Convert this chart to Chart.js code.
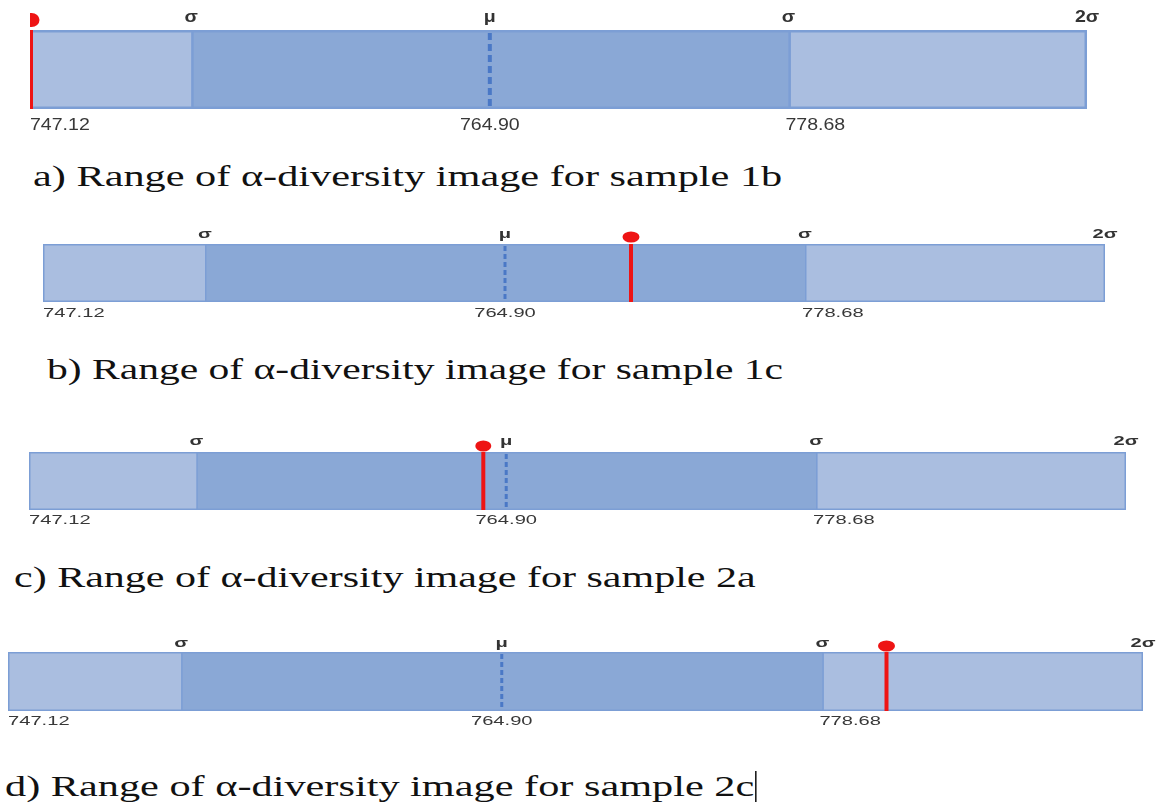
<!DOCTYPE html>
<html>
<head>
<meta charset="utf-8">
<script src="https://cdn.jsdelivr.net/npm/chart.js@4.4.1/dist/chart.umd.min.js"></script>
<style>
  html, body { margin: 0; padding: 0; background: #fff; }
  body { width: 1157px; height: 803px; position: relative; overflow: hidden; }
  canvas { position: absolute; left: 0; }
  .caption {
    position: absolute;
    font-family: 'Liberation Serif', 'Times New Roman', serif;
    font-size: 30px;
    line-height: 30px;
    color: #111;
    white-space: nowrap;
    transform-origin: 0 0;
    transform: scaleX(1.41);
  }
  .caret { display: inline-block; width: 0; height: 31px; border-left: 1px solid #000; vertical-align: -6px; margin-left: 1px; }
</style>
</head>
<body>
<script>
// Positions along the bar, in σ units measured from the mean μ
const rangeEdges = [-1.54, -1, 1, 2];
const meanValue = 0;
const topTickValues = [-1, 0, 1, 2];
const topTickLabels = ['σ', 'μ', 'σ', '2σ'];
const bottomTickValues = [-1.54, 0, 1];
const bottomTickLabels = ['747.12', '764.90', '778.68'];
const panelLetters = ['a', 'b', 'c', 'd'];
const sampleNames = ['1b', '1c', '2a', '2c'];
const sampleValues = [-1.535, 0.42, -0.074, 1.2];

const LIGHT = '#aabee0';
const DARK = '#8aa8d6';
const EDGE = '#7c9ed5';
const MEAN = '#4a78c6';
const RED = '#ee1414';
const WIDTH = 1157;

// Page layout of each panel (pixels)
const panels = [
  { top: 0, height: 140, left: 30, right: 1087, barTop: 30, barBottom: 109, font: 17, stretch: 1.15,
    topGap: 13, bottomGap: 16, line: 3, meanWidth: 4, dash: [7, 4], dotRx: 8, dotRy: 7, dotGap: 10, border: 3,
    captionX: 33, captionY: 161, captionScale: 1.41 },
  { top: 215, height: 110, left: 43, right: 1105, barTop: 244, barBottom: 302, font: 13, stretch: 1.55,
    topGap: 10, bottomGap: 11, line: 4, meanWidth: 3, dash: [5, 3], dotRx: 8.5, dotRy: 5.5, dotGap: 7, border: 2,
    captionX: 47, captionY: 354, captionScale: 1.385 },
  { top: 425, height: 110, left: 29, right: 1126, barTop: 452, barBottom: 510, font: 13, stretch: 1.55,
    topGap: 11, bottomGap: 10, line: 4, meanWidth: 3, dash: [5, 3], dotRx: 8, dotRy: 5.5, dotGap: 6, border: 2,
    captionX: 14, captionY: 562, captionScale: 1.40 },
  { top: 625, height: 110, left: 8, right: 1143, barTop: 652, barBottom: 711, font: 13, stretch: 1.55,
    topGap: 9, bottomGap: 10, line: 4, meanWidth: 3, dash: [5, 3], dotRx: 8.5, dotRy: 5.5, dotGap: 6, border: 2,
    captionX: 5, captionY: 771, captionScale: 1.41 }
];

const bottomAlign = ['left', 'center', 'left'];

function drawLabel(ctx, text, px, py, align, p) {
  ctx.save();
  ctx.translate(px, py);
  ctx.scale(p.stretch, 1);
  ctx.textAlign = align;
  ctx.textBaseline = 'middle';
  ctx.fillText(text, 0, 0);
  ctx.restore();
}

// Draws the mean line, the sample marker and the σ / value labels
const markerPlugin = {
  id: 'marker',
  afterDatasetsDraw(chart, args, opts) {
    const { ctx, chartArea: area } = chart;
    const x = chart.scales.x;
    const p = opts.panel;

    ctx.save();
    const mx = x.getPixelForValue(meanValue);
    ctx.strokeStyle = MEAN;
    ctx.lineWidth = p.meanWidth;
    ctx.setLineDash(p.dash);
    ctx.beginPath();
    ctx.moveTo(mx, area.top + p.border);
    ctx.lineTo(mx, area.bottom - p.border);
    ctx.stroke();
    ctx.restore();

    ctx.save();
    ctx.beginPath();
    ctx.rect(area.left, 0, chart.width - area.left, chart.height);
    ctx.clip();
    const sx = x.getPixelForValue(opts.value);
    ctx.strokeStyle = RED;
    ctx.lineWidth = p.line;
    ctx.beginPath();
    ctx.moveTo(sx, area.top);
    ctx.lineTo(sx, area.bottom);
    ctx.stroke();
    ctx.fillStyle = RED;
    ctx.beginPath();
    ctx.ellipse(sx, area.top - p.dotGap, p.dotRx, p.dotRy, 0, 0, Math.PI * 2);
    ctx.fill();
    ctx.restore();

    ctx.save();
    ctx.fillStyle = '#333';
    ctx.font = 'bold ' + p.font + 'px "Liberation Sans", Arial, sans-serif';
    topTickValues.forEach((v, i) => {
      drawLabel(ctx, topTickLabels[i], x.getPixelForValue(v), area.top - p.topGap, 'center', p);
    });
    ctx.fillStyle = '#383838';
    ctx.font = p.font + 'px "Liberation Sans", Arial, sans-serif';
    bottomTickValues.forEach((v, i) => {
      const nudge = (i > 0 && bottomAlign[i] === 'left') ? -3 : 0;
      drawLabel(ctx, bottomTickLabels[i], x.getPixelForValue(v) + nudge, area.bottom + p.bottomGap, bottomAlign[i], p);
    });
    ctx.restore();
  }
};

panels.forEach((p, i) => {
  const canvas = document.createElement('canvas');
  canvas.width = WIDTH;
  canvas.height = p.height;
  canvas.style.top = p.top + 'px';
  document.body.appendChild(canvas);

  const b = p.border;
  new Chart(canvas, {
    type: 'bar',
    data: {
      labels: ['range'],
      datasets: [
        { data: [[rangeEdges[0], rangeEdges[1]]], backgroundColor: LIGHT,
          borderWidth: { top: b, bottom: b, left: b, right: 0 } },
        { data: [[rangeEdges[1], rangeEdges[2]]], backgroundColor: DARK,
          borderWidth: { top: b, bottom: b, left: b, right: 0 } },
        { data: [[rangeEdges[2], rangeEdges[3]]], backgroundColor: LIGHT,
          borderWidth: { top: b, bottom: b, left: b, right: b } }
      ]
    },
    options: {
      indexAxis: 'y',
      responsive: false,
      animation: false,
      events: [],
      layout: {
        padding: {
          left: p.left,
          right: WIDTH - p.right,
          top: p.barTop - p.top,
          bottom: p.top + p.height - p.barBottom
        }
      },
      datasets: {
        bar: {
          grouped: false,
          barPercentage: 1,
          categoryPercentage: 1,
          borderColor: EDGE,
          borderSkipped: false,
          inflateAmount: 0.5
        }
      },
      plugins: {
        legend: { display: false },
        tooltip: { enabled: false },
        marker: { panel: p, value: sampleValues[i] }
      },
      scales: {
        x: { type: 'linear', min: rangeEdges[0], max: rangeEdges[3], display: false },
        y: { display: false }
      }
    },
    plugins: [markerPlugin]
  });

  const caption = document.createElement('div');
  caption.className = 'caption';
  caption.style.left = p.captionX + 'px';
  caption.style.top = p.captionY + 'px';
  caption.style.transform = 'scaleX(' + p.captionScale + ')';
  caption.textContent = panelLetters[i] + ') Range of α-diversity image for sample ' + sampleNames[i];
  if (i === panels.length - 1) {
    const caret = document.createElement('span');
    caret.className = 'caret';
    caption.appendChild(caret);
  }
  document.body.appendChild(caption);
});
</script>
</body>
</html>
